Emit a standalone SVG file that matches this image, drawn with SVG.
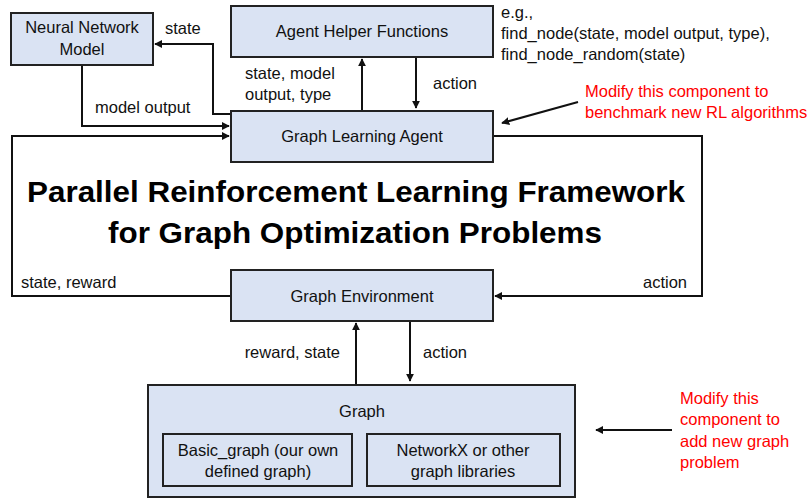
<svg xmlns="http://www.w3.org/2000/svg" width="811" height="499" viewBox="0 0 811 499">
<style>
  .box { fill: #dae3f3; stroke: #222; stroke-width: 2; }
  .inner { fill: #dae3f3; stroke: #222; stroke-width: 2; }
  .t { font-family: "Liberation Sans", Arial, sans-serif; font-size: 16.5px; fill: #111; }
  .c { text-anchor: middle; }
  .red { font-family: "Liberation Sans", Arial, sans-serif; font-size: 16.5px; fill: #ff0000; }
  .title { font-family: "Liberation Sans", Arial, sans-serif; font-size: 30px; font-weight: bold; fill: #000; text-anchor: middle; }
  .ln { fill: none; stroke: #111; stroke-width: 2; }
</style>
<defs>
  <marker id="ah" viewBox="0 0 10 10" refX="9" refY="5" markerWidth="4" markerHeight="4" orient="auto" markerUnits="strokeWidth">
    <path d="M0,0 L10,5 L0,10 z" fill="#111"/>
  </marker>
</defs>
<rect width="811" height="499" fill="#fff"/>

<g id="connectors">
  <polyline class="ln" points="231,114 213,114 213,44 155,44" marker-end="url(#ah)"/>
  <polyline class="ln" points="82,65 82,126 229,126" marker-end="url(#ah)"/>
  <line class="ln" x1="362" y1="110" x2="362" y2="59" marker-end="url(#ah)"/>
  <line class="ln" x1="416" y1="57" x2="416" y2="108" marker-end="url(#ah)"/>
  <polyline class="ln" points="231,296 12,296 12,136 229,136" marker-end="url(#ah)"/>
  <polyline class="ln" points="493,136 702,136 702,296 495,296" marker-end="url(#ah)"/>
  <line class="ln" x1="356" y1="384" x2="356" y2="323" marker-end="url(#ah)"/>
  <line class="ln" x1="410" y1="320" x2="410" y2="381" marker-end="url(#ah)"/>
  <line class="ln" x1="578" y1="102" x2="502" y2="123" marker-end="url(#ah)"/>
  <line class="ln" x1="672" y1="430" x2="596" y2="430" marker-end="url(#ah)"/>
</g>

<g id="nn">
  <rect class="box" x="11" y="13" width="142" height="52"/>
  <text class="t c" x="82" y="33">Neural Network</text>
  <text class="t c" x="82" y="55">Model</text>
</g>

<g id="ahf">
  <rect class="box" x="231" y="6" width="262" height="51"/>
  <text class="t c" x="362" y="37">Agent Helper Functions</text>
</g>

<g id="gla">
  <rect class="box" x="231" y="111" width="262" height="51"/>
  <text class="t c" x="362" y="142">Graph Learning Agent</text>
</g>

<g id="ge">
  <rect class="box" x="231" y="270" width="262" height="51"/>
  <text class="t c" x="362" y="302">Graph Environment</text>
</g>

<g id="graph">
  <rect class="box" x="148" y="385" width="427" height="112"/>
  <text class="t c" x="362" y="417">Graph</text>
  <g id="basic">
    <rect class="inner" x="163" y="434" width="189" height="52"/>
    <text class="t c" x="258" y="456">Basic_graph (our own</text>
    <text class="t c" x="258" y="477">defined graph)</text>
  </g>
  <g id="networkx">
    <rect class="inner" x="367" y="434" width="193" height="52"/>
    <text class="t c" x="463" y="456">NetworkX or other</text>
    <text class="t c" x="463" y="477">graph libraries</text>
  </g>
</g>

<g id="labels">
  <text class="t" x="165" y="34">state</text>
  <text class="t" x="95" y="113">model output</text>
  <text class="t" x="245" y="79">state, model</text>
  <text class="t" x="245" y="100">output, type</text>
  <text class="t" x="433" y="89">action</text>
  <text class="t" x="21" y="288">state, reward</text>
  <text class="t" x="687" y="288" text-anchor="end">action</text>
  <text class="t" x="340" y="358" text-anchor="end">reward, state</text>
  <text class="t" x="423" y="358">action</text>
  <text class="t" x="501" y="18">e.g.,</text>
  <text class="t" x="501" y="39">find_node(state, model output, type),</text>
  <text class="t" x="501" y="60">find_node_random(state)</text>
</g>

<g id="title">
  <text class="title" x="356" y="202" textLength="658" lengthAdjust="spacingAndGlyphs">Parallel Reinforcement Learning Framework</text>
  <text class="title" x="355" y="243" textLength="494" lengthAdjust="spacingAndGlyphs">for Graph Optimization Problems</text>
</g>

<g id="notes">
  <text class="red" x="585" y="97">Modify this component to</text>
  <text class="red" x="585" y="118">benchmark new RL algorithms</text>
  <text class="red" x="680" y="404">Modify this</text>
  <text class="red" x="680" y="425">component to</text>
  <text class="red" x="680" y="447">add new graph</text>
  <text class="red" x="680" y="468">problem</text>
</g>
</svg>
